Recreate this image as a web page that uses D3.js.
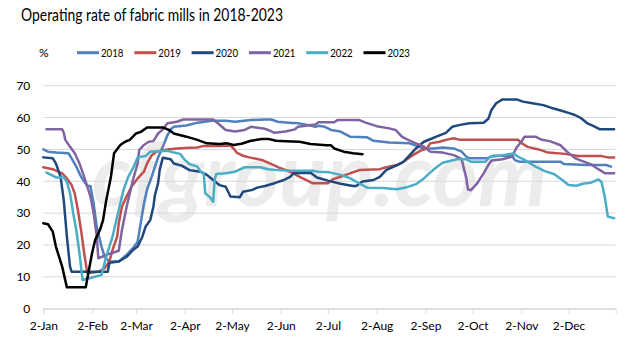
<!DOCTYPE html>
<html>
<head>
<meta charset="utf-8">
<script src="https://cdn.jsdelivr.net/npm/d3@7/dist/d3.min.js"></script>
<style>
  html, body { margin: 0; padding: 0; background: #fff; }
  svg { display: block; }
  text { font-family: Lato, "Open Sans", sans-serif; fill: #000; }
</style>
</head>
<body>
<svg id="chart" width="643" height="341"></svg>
<script>
// Weekly operating rate (%) of fabric mills, plotted on a common Jan–Dec calendar
const years = ["2018", "2019", "2020", "2021", "2022", "2023"];
const colors = ["#4F81BD", "#C0504D", "#1F497D", "#8064A2", "#4BACC6", "#000000"];
const yTicks = [0, 10, 20, 30, 40, 50, 60, 70];
const monthTicks = ["01-02","02-02","03-02","04-02","05-02","06-02","07-02","08-02","09-02","10-02","11-02","12-02"];

const s2018 = [["01-02",50.0],["01-05",49.3],["01-10",49.0],["01-18",48.8],["01-20",47.2],["01-23",44.6],["01-26",41.4],["01-30",38.5],["02-01",38.5],["02-03",33.0],["02-05",25.7],["02-08",19.5],["02-10",16.3],["02-13",14.8],["02-19",14.8],["02-24",16.9],["02-28",19.0],["03-03",21.0],["03-05",27.0],["03-07",33.0],["03-09",37.5],["03-12",41.5],["03-14",44.6],["03-16",47.5],["03-19",50.8],["03-22",54.5],["03-24",56.3],["03-26",57.1],["04-03",57.5],["04-10",58.4],["04-19",59.0],["04-28",59.0],["05-04",58.7],["05-14",59.2],["05-23",59.4],["05-27",59.4],["05-31",58.7],["06-07",58.4],["06-13",58.2],["06-19",57.7],["06-24",57.1],["06-26",57.4],["06-30",57.1],["07-04",56.1],["07-10",55.6],["07-16",54.0],["07-27",53.8],["07-31",52.7],["08-10",52.2],["08-23",51.9],["09-01",50.3],["09-07",50.3],["09-13",50.6],["09-20",50.3],["09-25",49.3],["09-28",47.7],["09-30",47.2],["10-11",47.2],["10-15",48.0],["10-27",48.0],["10-29",46.6],["11-01",46.1],["11-27",46.1],["11-29",45.4],["12-13",45.1],["12-26",45.1],["12-29",44.6]];

const s2019 = [["01-02",44.4],["01-08",43.8],["01-14",42.5],["01-17",40.9],["01-20",38.8],["01-22",36.2],["01-24",31.0],["01-26",24.7],["01-28",17.4],["01-30",11.1],["02-06",11.6],["02-10",12.7],["02-13",14.8],["02-15",18.4],["02-18",22.6],["02-19",26.8],["02-21",32.0],["02-24",35.2],["02-27",38.3],["03-03",40.9],["03-07",43.0],["03-09",45.6],["03-12",48.2],["03-15",49.3],["03-22",50.0],["03-28",50.3],["04-05",50.5],["04-10",50.6],["04-14",51.1],["04-24",51.1],["05-01",51.2],["05-03",50.3],["05-05",49.0],["05-09",48.0],["05-13",47.5],["05-21",46.7],["05-26",45.6],["06-01",44.3],["06-08",43.0],["06-14",41.4],["06-19",40.2],["06-22",39.4],["07-02",39.4],["07-05",40.6],["07-10",41.4],["07-16",42.5],["07-22",43.5],["08-04",43.8],["08-08",44.4],["08-15",45.1],["08-19",46.1],["08-25",48.2],["08-30",49.6],["09-03",50.3],["09-05",51.9],["09-11",52.4],["09-15",53.0],["09-20",53.5],["09-24",53.0],["10-12",53.0],["10-21",53.0],["10-31",53.0],["11-02",52.0],["11-06",50.8],["11-13",50.0],["11-19",49.0],["11-30",48.6],["12-08",47.9],["12-23",47.9],["12-27",47.5],["12-31",47.5]];

const s2020 = [["01-02",47.5],["01-08",47.2],["01-10",45.6],["01-13",41.4],["01-15",34.1],["01-17",22.6],["01-19",13.2],["01-20",11.6],["02-12",11.6],["02-13",14.4],["02-19",14.8],["02-24",16.3],["02-28",18.4],["03-03",19.5],["03-06",22.6],["03-08",25.7],["03-11",27.8],["03-13",32.0],["03-14",35.7],["03-16",39.4],["03-17",43.5],["03-19",47.4],["03-24",46.9],["03-26",45.6],["03-31",44.9],["04-05",43.5],["04-12",43.0],["04-16",42.0],["04-20",40.4],["04-24",38.8],["04-28",38.3],["05-01",35.2],["05-07",35.0],["05-09",36.7],["05-15",37.3],["05-18",38.0],["05-23",38.5],["05-29",39.4],["06-04",40.4],["06-08",41.4],["06-10",42.5],["06-21",42.7],["06-25",41.2],["07-02",40.2],["07-10",39.2],["07-18",38.5],["07-20",38.5],["07-24",39.9],["07-31",40.4],["08-04",41.4],["08-08",43.5],["08-15",45.1],["08-19",46.1],["08-23",48.2],["08-27",50.3],["09-01",52.4],["09-05",53.2],["09-09",54.0],["09-15",55.2],["09-19",57.1],["09-24",57.7],["09-30",58.2],["10-09",58.4],["10-12",59.6],["10-14",62.4],["10-17",64.5],["10-21",65.7],["10-30",65.7],["11-03",65.0],["11-09",64.5],["11-16",63.9],["11-22",62.9],["11-27",62.2],["12-03",61.3],["12-06",60.8],["12-10",59.8],["12-14",58.2],["12-18",57.3],["12-22",56.3],["12-31",56.3]];

const s2021 = [["01-04",56.3],["01-14",56.3],["01-15",55.2],["01-16",53.0],["01-19",50.8],["01-22",48.8],["01-25",45.6],["01-28",41.4],["02-01",35.2],["02-03",30.0],["02-05",22.6],["02-06",15.8],["02-11",16.9],["02-19",18.2],["02-21",24.7],["02-24",32.0],["02-28",40.4],["03-03",45.6],["03-04",49.8],["03-07",51.4],["03-10",52.4],["03-13",52.6],["03-16",55.0],["03-19",56.3],["03-22",58.2],["03-28",58.7],["04-01",59.4],["04-20",59.4],["04-23",58.2],["04-28",56.1],["05-04",55.6],["05-10",56.1],["05-14",57.1],["05-22",56.6],["05-25",56.1],["05-29",55.2],["06-05",55.6],["06-11",56.3],["06-13",57.1],["06-24",57.8],["06-26",58.5],["07-06",58.5],["07-08",59.2],["07-22",59.2],["07-26",58.4],["08-02",57.3],["08-10",56.6],["08-14",56.1],["08-18",54.0],["08-21",53.2],["08-27",51.9],["09-01",50.9],["09-05",49.3],["09-13",49.0],["09-20",48.2],["09-25",47.0],["09-28",41.0],["09-29",37.5],["10-01",37.2],["10-05",39.4],["10-09",42.5],["10-12",45.1],["10-14",46.5],["10-21",46.9],["10-27",47.7],["10-30",50.6],["11-02",52.4],["11-04",54.0],["11-11",54.0],["11-15",53.0],["11-20",52.6],["11-27",51.3],["12-01",49.3],["12-06",47.3],["12-10",46.5],["12-16",45.4],["12-20",44.1],["12-23",43.2],["12-25",42.5],["12-31",42.5]];

const s2022 = [["01-04",42.7],["01-07",42.0],["01-10",41.2],["01-15",41.2],["01-17",39.9],["01-19",36.2],["01-21",30.0],["01-23",24.7],["01-25",17.4],["01-27",9.0],["02-08",10.6],["02-11",16.3],["02-15",22.6],["02-18",28.9],["02-22",37.3],["02-25",41.4],["02-28",44.1],["03-03",47.5],["03-08",47.9],["03-11",49.3],["03-22",49.6],["03-26",49.0],["03-30",48.6],["04-02",46.7],["04-05",45.4],["04-10",44.6],["04-12",43.0],["04-14",42.5],["04-15",36.2],["04-18",35.0],["04-20",33.6],["04-21",40.5],["04-22",42.3],["04-28",42.5],["05-04",43.0],["05-10",44.4],["05-20",44.4],["05-25",43.8],["05-31",43.5],["06-09",43.3],["06-22",43.3],["06-26",43.0],["07-03",42.8],["07-10",42.0],["07-16",41.0],["07-22",39.3],["07-27",38.0],["08-06",37.9],["08-15",37.5],["08-21",38.1],["08-27",39.1],["09-01",40.9],["09-05",42.7],["09-09",44.4],["09-13",45.8],["09-22",46.9],["09-28",46.9],["10-01",46.1],["10-10",46.1],["10-13",47.6],["10-21",48.2],["10-28",48.7],["10-31",47.7],["11-04",46.7],["11-11",44.6],["11-17",43.2],["11-23",42.2],["11-28",40.4],["12-02",38.8],["12-07",38.6],["12-11",39.2],["12-16",39.5],["12-21",40.6],["12-23",39.8],["12-25",35.2],["12-27",28.9],["12-31",28.4]];

const s2023 = [["01-02",26.8],["01-05",26.5],["01-08",24.2],["01-10",19.5],["01-14",13.2],["01-17",6.7],["01-29",6.7],["01-30",9.5],["02-02",17.4],["02-04",21.6],["02-07",24.7],["02-09",27.8],["02-11",34.0],["02-14",41.4],["02-16",48.8],["02-20",51.4],["02-23",52.4],["02-26",53.0],["02-28",54.0],["03-02",55.0],["03-05",55.5],["03-09",56.9],["03-19",56.9],["03-23",56.1],["03-26",55.0],["04-03",54.0],["04-10",53.0],["04-16",51.9],["04-24",51.7],["04-29",51.9],["05-03",51.4],["05-08",51.8],["05-14",52.7],["05-21",53.3],["05-25",53.3],["05-30",52.7],["06-05",52.6],["06-14",52.4],["06-21",51.7],["07-01",51.3],["07-04",51.3],["07-06",50.3],["07-12",49.3],["07-18",48.8],["07-24",48.5]];

const seriesData = [s2018, s2019, s2020, s2021, s2022, s2023];

// all years share one calendar so the seasons line up
const parseMD = md => d3.timeParse("%Y-%m-%d")("2023-" + md);

const svg = d3.select("#chart");
const margin = { left: 43.3, right: 643 - 615.7, top: 85.7, bottom: 341 - 308.7 };
const x = d3.scaleTime()
  .domain([new Date(2023, 0, 2), new Date(2024, 0, 1)])
  .range([margin.left, 643 - margin.right]);
const y = d3.scaleLinear().domain([0, 70]).range([341 - margin.bottom, margin.top]);

// title
svg.append("text")
  .attr("x", 21).attr("y", 21)
  .attr("font-size", 17)
  .attr("textLength", 262).attr("lengthAdjust", "spacingAndGlyphs")
  .text("Operating rate of fabric mills in 2018-2023");

// watermark
svg.append("text")
  .attr("x", 92).attr("y", 206)
  .attr("font-family", "'Liberation Serif', 'DejaVu Serif', serif")
  .attr("font-style", "italic").attr("font-weight", "bold")
  .attr("font-size", 88)
  .attr("textLength", 455).attr("lengthAdjust", "spacingAndGlyphs")
  .style("fill", "#ececec")
  .text("cfgroup.com");

// horizontal gridlines
svg.append("g")
  .selectAll("line")
  .data(yTicks)
  .join("line")
  .attr("x1", x.range()[0]).attr("x2", x.range()[1])
  .attr("y1", d => y(d)).attr("y2", d => y(d))
  .attr("stroke", "#d9d9d9").attr("stroke-width", 1);

// y axis labels
const yAxis = d3.axisLeft(y).tickValues(yTicks).tickSize(0).tickPadding(13);
svg.append("g")
  .attr("transform", `translate(${x.range()[0]},0)`)
  .call(yAxis)
  .call(g => g.select(".domain").remove())
  .selectAll("text")
  .attr("font-family", "Lato, sans-serif")
  .attr("font-size", 12)
  .style("fill", "#000");

// x axis with month ticks
const xAxis = d3.axisBottom(x)
  .tickValues(monthTicks.map(parseMD))
  .tickFormat(d3.timeFormat("%-d-%b"))
  .tickSize(5).tickPadding(8);
svg.append("g")
  .attr("transform", `translate(0,${y(0)})`)
  .call(xAxis)
  .call(g => g.select(".domain").attr("stroke", "#d9d9d9"))
  .call(g => g.selectAll(".tick line").attr("stroke", "#d9d9d9"))
  .selectAll("text")
  .attr("font-family", "Lato, sans-serif")
  .attr("font-size", 12)
  .style("fill", "#000");

// series lines
const line = d3.line()
  .x(d => x(parseMD(d[0])))
  .y(d => y(d[1]));

svg.append("g")
  .selectAll("path")
  .data(seriesData)
  .join("path")
  .attr("d", line)
  .attr("fill", "none")
  .attr("stroke", (d, i) => colors[i])
  .attr("stroke-width", 2.5)
  .attr("stroke-linejoin", "round")
  .attr("stroke-linecap", "round");

// legend
svg.append("text")
  .attr("x", 39).attr("y", 57)
  .attr("font-size", 12)
  .text("%");

const legend = svg.append("g")
  .selectAll("g")
  .data(years)
  .join("g")
  .attr("transform", (d, i) => `translate(${77 + i * 57.3},52.7)`);
legend.append("line")
  .attr("x1", 0).attr("x2", 22)
  .attr("stroke", (d, i) => colors[i])
  .attr("stroke-width", 3);
legend.append("text")
  .attr("x", 24).attr("y", 4.3)
  .attr("font-size", 12)
  .attr("textLength", 22.5).attr("lengthAdjust", "spacingAndGlyphs")
  .text(d => d);
</script>
</body>
</html>
